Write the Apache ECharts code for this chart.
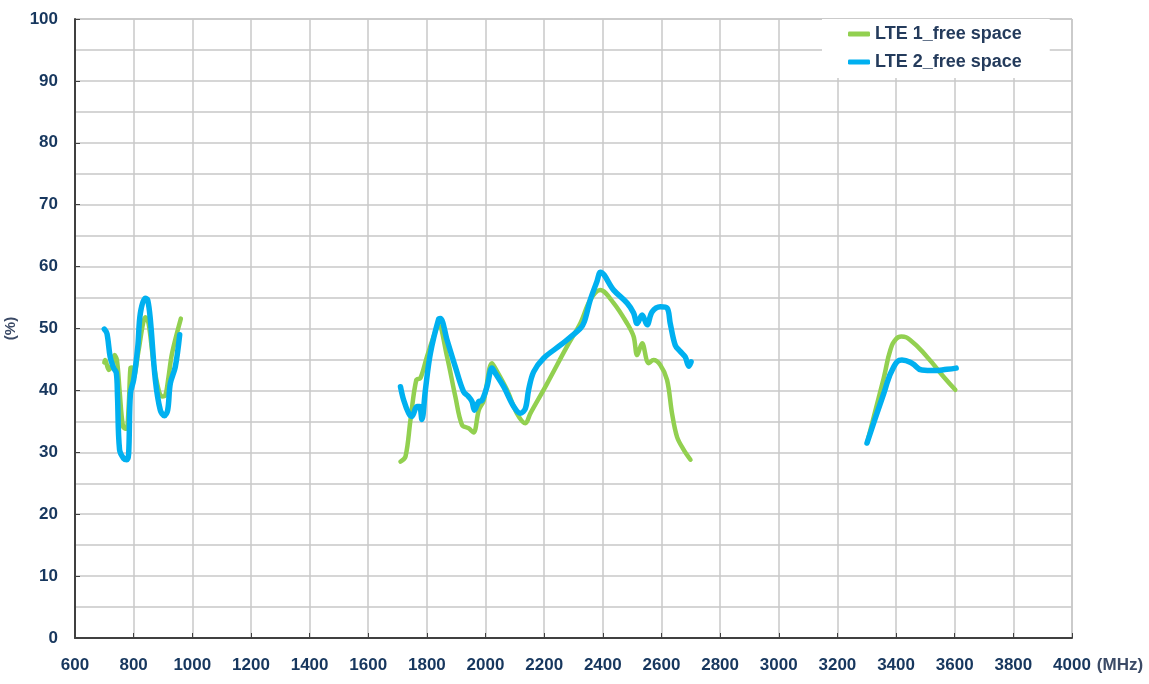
<!DOCTYPE html>
<html>
<head>
<meta charset="utf-8">
<script src="https://cdn.jsdelivr.net/npm/echarts@6/dist/echarts.min.js"></script>
<style>
html, body { margin: 0; padding: 0; background: #fff; }
#chart { width: 1149px; height: 684px; }
</style>
</head>
<body>
<div id="chart"></div>
<script>
// band edges, one array per band
const lte1LowFreq  = [700, 703, 715, 726, 735, 743, 752, 764, 775, 783, 789, 794, 798, 817, 832, 840, 851, 868, 885, 897, 908, 919, 931, 961];
const lte1LowPct   = [44.5, 44.9, 43.3, 44.1, 45.7, 44.9, 40, 34.1, 33.8, 37.4, 43.6, 43.7, 41.7, 46.5, 50.8, 51.8, 50.8, 44.4, 40.1, 39, 39.2, 42.2, 46, 51.6];
const lte2LowFreq  = [700, 709, 720, 732, 741, 745, 752, 766, 777, 783, 789, 800, 814, 823, 840, 848, 857, 874, 891, 905, 916, 925, 942, 957];
const lte2LowPct   = [49.9, 49.2, 45.4, 43.6, 42.8, 39, 30.4, 29, 28.8, 29.8, 39.5, 41.7, 47, 52.5, 54.9, 54.6, 51.4, 41.7, 36.8, 35.9, 36.8, 41.1, 43.8, 49];

const lte1MidFreq  = [1710, 1727, 1744, 1764, 1778, 1800, 1835, 1840, 1869, 1897, 1920, 1942, 1959, 1977, 1994, 2022, 2033, 2073, 2107, 2136, 2153, 2210, 2278, 2323, 2357, 2391, 2437, 2483, 2505, 2517, 2534, 2556, 2573, 2596, 2619, 2636, 2653, 2676, 2699];
const lte1MidPct   = [28.5, 29.3, 35.2, 41.7, 42, 45.4, 50.3, 50.5, 45.4, 39, 34.4, 33.9, 33.2, 36.8, 38.4, 44.4, 43.6, 40.1, 36.3, 34.7, 36.3, 41.1, 47.1, 50.8, 54.6, 56.2, 54.1, 50.8, 48.7, 45.7, 47.6, 44.4, 44.9, 44.1, 41.7, 36.3, 32.5, 30.4, 28.8];
const lte2MidFreq  = [1710, 1721, 1738, 1749, 1766, 1775, 1783, 1795, 1812, 1840, 1846, 1869, 1897, 1925, 1942, 1954, 1962, 1977, 1988, 2005, 2022, 2033, 2062, 2096, 2119, 2136, 2147, 2164, 2198, 2255, 2323, 2337, 2357, 2380, 2392, 2437, 2483, 2505, 2517, 2534, 2551, 2568, 2596, 2619, 2630, 2647, 2664, 2681, 2693, 2701];
const lte2MidPct   = [40.6, 38.4, 36.3, 35.8, 37.4, 37.4, 35.3, 40.1, 46, 51.5, 51.6, 48.1, 43.8, 39.8, 39, 38.2, 36.8, 38.2, 38.4, 40.6, 43.6, 42.8, 40.6, 37.4, 36.3, 37.1, 40.1, 43, 45.2, 47.3, 50, 51.1, 54.6, 57.6, 59.1, 56.2, 54.1, 52.5, 50.8, 52.2, 50.6, 52.7, 53.5, 53.3, 50.8, 47.3, 46.3, 45.4, 43.9, 44.6];

const lte1HighFreq = [3301, 3358, 3381, 3400, 3418, 3449, 3506, 3562, 3602];
const lte1HighPct  = [31.5, 42, 46.6, 48.3, 48.7, 48.1, 45.4, 42.2, 40.1];
const lte2HighFreq = [3301, 3358, 3392, 3420, 3454, 3488, 3528, 3574, 3605];
const lte2HighPct  = [31.5, 39.5, 43.8, 44.9, 44.4, 43.3, 43.2, 43.4, 43.6];

const seriesNames = ['LTE 1_free space', 'LTE 2_free space'];
const seriesColors = ['#92D050', '#00B0F0'];

const labelFont = "'Liberation Sans', Arial, sans-serif";
const textColor = '#17375E';

function pairs(xs, ys) {
    return xs.map((x, i) => [x, ys[i]]);
}

function band(idx, xs, ys, smooth) {
    return {
        name: seriesNames[idx],
        type: 'line',
        smooth: smooth,
        showSymbol: false,
        symbol: 'none',
        lineStyle: { color: seriesColors[idx], width: idx === 1 ? 5.5 : 4.5, cap: 'round', join: 'round' },
        itemStyle: { color: seriesColors[idx] },
        z: 3 + idx,
        data: pairs(xs, ys)
    };
}

const chart = echarts.init(document.getElementById('chart'));

const option = {
    animation: false,
    backgroundColor: '#fff',
    grid: {
        left: 75, right: 77, top: 19, bottom: 46,
        containLabel: false,
        outerBoundsMode: 'none',
        show: true, borderColor: '#a6a6a6', borderWidth: 1
    },
    legend: {
        data: seriesNames,
        orient: 'vertical',
        left: 822, top: 19,
        padding: [4, 28, 5, 26],
        itemGap: 6,
        itemWidth: 22, itemHeight: 5,
        icon: 'roundRect',
        backgroundColor: '#fff',
        textStyle: { fontFamily: labelFont, fontWeight: 'bold', fontSize: 18, lineHeight: 22, color: '#243B5C' }
    },
    xAxis: {
        type: 'value',
        min: 600, max: 4000, interval: 200,
        name: '(MHz)',
        nameLocation: 'end',
        nameGap: 20,
        nameTextStyle: { fontFamily: labelFont, fontWeight: 'bold', fontSize: 17, color: '#3B4A66', verticalAlign: 'top', padding: [19, 0, 0, 0] },
        axisLine: { lineStyle: { color: '#404040', width: 2 } },
        axisTick: { inside: true, length: 5, lineStyle: { color: '#404040' } },
        axisLabel: {
            margin: 19, fontFamily: labelFont, fontWeight: 'bold', fontSize: 17, color: textColor,
            showMinLabel: true, showMaxLabel: true, hideOverlap: false,
            formatter: v => String(v)
        },
        splitLine: { lineStyle: { color: '#c8c8c8', width: 1.5 } }
    },
    yAxis: {
        type: 'value',
        min: 0, max: 100, interval: 10,
        name: '(%)',
        nameLocation: 'middle',
        nameGap: 49,
        nameTextStyle: { fontFamily: labelFont, fontWeight: 'bold', fontSize: 15, color: '#3B4A66' },
        axisLine: { show: true, lineStyle: { color: '#404040', width: 2 } },
        axisTick: { show: true, inside: true, length: 5, lineStyle: { color: '#404040' } },
        axisLabel: { margin: 17, fontFamily: labelFont, fontWeight: 'bold', fontSize: 17, color: textColor },
        splitLine: { lineStyle: { color: '#c8c8c8', width: 1.5 } },
        minorTick: { show: false, splitNumber: 2 },
        minorSplitLine: { show: true, lineStyle: { color: '#c8c8c8', width: 1.5 } }
    },
    series: [
        band(0, lte1LowFreq, lte1LowPct, 0.35),
        band(0, lte1MidFreq, lte1MidPct, 0.35),
        band(0, lte1HighFreq, lte1HighPct, 0.5),
        band(1, lte2LowFreq, lte2LowPct, 0.35),
        band(1, lte2MidFreq, lte2MidPct, 0.35),
        band(1, lte2HighFreq, lte2HighPct, 0.5)
    ]
};

chart.setOption(option);
</script>
</body>
</html>
